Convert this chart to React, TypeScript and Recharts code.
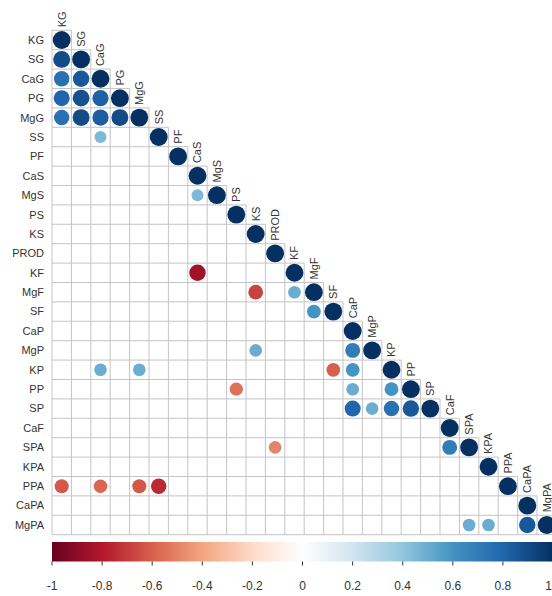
import React from "react";
import { ScatterChart, Scatter, XAxis, YAxis, ReferenceLine, ReferenceArea } from "recharts";

const variables = [
  "KG", "SG", "CaG", "PG", "MgG", "SS", "PF", "CaS", "MgS", "PS", "KS", "PROD", "KF",
  "MgF", "SF", "CaP", "MgP", "KP", "PP", "SP", "CaF", "SPA", "KPA", "PPA", "CaPA", "MgPA",
];

// significant off-diagonal correlations (row variable, column variable, r)
const offDiagonal: [string, string, number][] = [
  ["SG", "KG", 0.9],
  ["CaG", "KG", 0.75], ["CaG", "SG", 0.85],
  ["PG", "KG", 0.8], ["PG", "SG", 0.88], ["PG", "CaG", 0.82],
  ["MgG", "KG", 0.75], ["MgG", "SG", 0.9], ["MgG", "CaG", 0.83], ["MgG", "PG", 0.9],
  ["SS", "CaG", 0.45],
  ["MgS", "CaS", 0.45],
  ["KF", "CaS", -0.85],
  ["MgF", "KS", -0.68], ["MgF", "KF", 0.5],
  ["SF", "MgF", 0.6],
  ["MgP", "KS", 0.5], ["MgP", "CaP", 0.7],
  ["KP", "CaG", 0.5], ["KP", "MgG", 0.5], ["KP", "SF", -0.6], ["KP", "CaP", 0.6],
  ["PP", "PS", -0.55], ["PP", "CaP", 0.5], ["PP", "KP", 0.6],
  ["SP", "CaP", 0.8], ["SP", "MgP", 0.5], ["SP", "KP", 0.75], ["SP", "PP", 0.85],
  ["SPA", "PROD", -0.5], ["SPA", "CaF", 0.7],
  ["PPA", "KG", -0.62], ["PPA", "CaG", -0.58], ["PPA", "MgG", -0.62], ["PPA", "SS", -0.75],
  ["MgPA", "SPA", 0.5], ["MgPA", "KPA", 0.5], ["MgPA", "CaPA", 0.85],
];

const legendTicks = [-1, -0.8, -0.6, -0.4, -0.2, 0, 0.2, 0.4, 0.6, 0.8, 1];

const palette = [
  "#67001F", "#B2182B", "#D6604D", "#F4A582", "#FDDBC7", "#FFFFFF",
  "#D1E5F0", "#92C5DE", "#4393C3", "#2166AC", "#053061",
];

const FONT = "'Liberation Sans', Arial, sans-serif";
const CELL = 19.4;
const N = variables.length;

function hexToRgb(h: string) {
  const v = parseInt(h.slice(1), 16);
  return [(v >> 16) & 255, (v >> 8) & 255, v & 255];
}
function colorFor(r: number) {
  const t = ((r + 1) / 2) * (palette.length - 1);
  const i = Math.min(Math.floor(t), palette.length - 2);
  const f = t - i;
  const a = hexToRgb(palette[i]);
  const b = hexToRgb(palette[i + 1]);
  const c = a.map((v, k) => Math.round(v + (b[k] - v) * f));
  return `rgb(${c[0]},${c[1]},${c[2]})`;
}

const cells = [
  ...variables.map((v, i) => ({ x: i, y: i, r: 1 })),
  ...offDiagonal.map(([row, col, r]) => ({
    x: variables.indexOf(col),
    y: variables.indexOf(row),
    r,
  })),
];

const diagLabels = variables.map((name, i) => ({ x: i, y: i - 0.5, name }));

const CircleShape = (props: any) => {
  const { cx, cy, payload } = props;
  const rad = 0.46 * CELL * Math.sqrt(Math.abs(payload.r));
  return <circle cx={cx} cy={cy} r={rad} fill={colorFor(payload.r)} />;
};

const LabelShape = (props: any) => {
  const { cx, cy, payload } = props;
  const tx = cx + 4;
  const ty = cy - 3;
  return (
    <text
      x={tx}
      y={ty}
      transform={`rotate(-90 ${tx} ${ty})`}
      textAnchor="start"
      fontSize={11}
      fontFamily={FONT}
      fill="#333"
    >
      {payload.name}
    </text>
  );
};

const LegendTick = (props: any) => {
  const { x, y, payload } = props;
  const nearEdge = Number(x) > 540;
  return (
    <text
      x={nearEdge ? 544 : x}
      y={y}
      dy="0.71em"
      textAnchor={nearEdge ? "end" : "middle"}
      fontSize={12}
      fontFamily={FONT}
      fill="#333"
    >
      {String(payload.value)}
    </text>
  );
};

const gridSegments: { x1: number; y1: number; x2: number; y2: number }[] = [];
for (let k = 0; k <= N; k++) {
  gridSegments.push({ x1: -0.5, y1: k - 0.5, x2: Math.min(k, N - 1) + 0.5, y2: k - 0.5 });
  gridSegments.push({ x1: k - 0.5, y1: Math.max(k - 1, 0) - 0.5, x2: k - 0.5, y2: N - 0.5 });
}

const legendData = legendTicks.map((v) => ({ v, y: 0.5 }));

export default function App() {
  const plotSize = CELL * N;
  return (
    <div style={{ position: "fixed", left: 0, top: 0, width: 552, height: 596, overflow: "hidden", background: "#fff" }}>
      <div style={{ position: "absolute", left: 8, top: 8 }}>
        <ScatterChart
          width={560}
          height={22.3 + plotSize + 2}
          margin={{ top: 22.3, right: 560 - 44 - plotSize, bottom: 2, left: 0 }}
        >
          <XAxis type="number" dataKey="x" domain={[-0.5, N - 0.5]} hide />
          <YAxis
            type="number"
            dataKey="y"
            domain={[-0.5, N - 0.5]}
            reversed
            width={44}
            ticks={variables.map((_, i) => i)}
            interval={0}
            tickFormatter={(i: number) => variables[i] ?? ""}
            tickLine={false}
            axisLine={false}
            tick={{ fill: "#333", fontSize: 11, fontFamily: FONT }}
          />
          {gridSegments.map((s, i) => (
            <ReferenceLine
              key={i}
              segment={[{ x: s.x1, y: s.y1 }, { x: s.x2, y: s.y2 }]}
              stroke="#c4c4c4"
              strokeWidth={1}
              ifOverflow="visible"
            />
          ))}
          <Scatter data={cells} shape={CircleShape} isAnimationActive={false} />
          <Scatter data={diagLabels} shape={LabelShape} isAnimationActive={false} />
        </ScatterChart>
      </div>
      <div style={{ position: "absolute", left: 8, top: 536 }}>
        <ScatterChart width={560} height={59.5} margin={{ top: 6, right: 15, bottom: 0, left: 44 }}>
          <defs>
            <linearGradient id="corrGrad" x1="0" y1="0" x2="1" y2="0">
              {palette.map((c, i) => (
                <stop key={i} offset={`${(i / (palette.length - 1)) * 100}%`} stopColor={c} />
              ))}
            </linearGradient>
          </defs>
          <XAxis
            type="number"
            dataKey="v"
            domain={[-1, 1]}
            ticks={legendTicks}
            interval={0}
            height={34}
            tickSize={4}
            tickMargin={16}
            axisLine={false}
            tickLine={{ stroke: "#333" }}
            tick={LegendTick}
          />
          <YAxis type="number" dataKey="y" domain={[0, 1]} hide />
          <ReferenceArea x1={-1} x2={1} y1={0} y2={1} fill="url(#corrGrad)" fillOpacity={1} stroke="none" />
          <Scatter data={legendData} shape={() => <g />} isAnimationActive={false} />
        </ScatterChart>
      </div>
    </div>
  );
}
